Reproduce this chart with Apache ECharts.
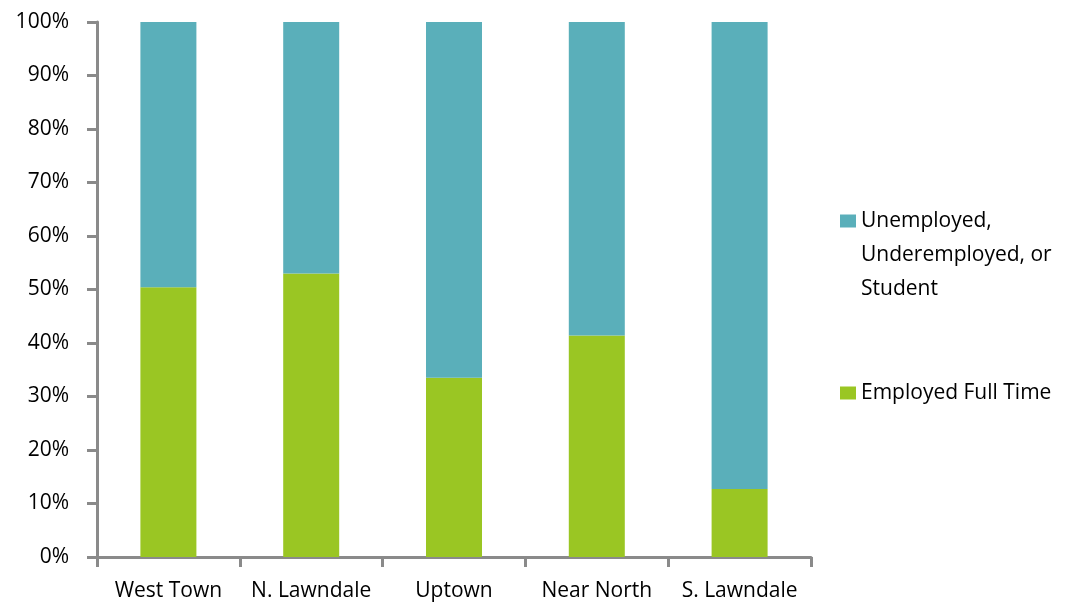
<!DOCTYPE html>
<html>
<head>
<meta charset="utf-8">
<script src="https://cdn.jsdelivr.net/npm/echarts@6/dist/echarts.min.js"></script>
<style>
  html, body { margin: 0; padding: 0; background: #fff; }
  #chart { width: 1084px; height: 604px; }
</style>
</head>
<body>
<div id="chart"></div>
<script>
// Employment status by community area (share of respondents, %)
const categories = ['West Town', 'N. Lawndale', 'Uptown', 'Near North', 'S. Lawndale'];
const employedFullTime = [50.4, 53.0, 33.5, 41.4, 12.7];
const unemployedOrStudent = [49.6, 47.0, 66.5, 58.6, 87.3];
const yTicks = [0, 10, 20, 30, 40, 50, 60, 70, 80, 90, 100];

const NAME_OTHER = 'Unemployed, Underemployed, or Student';
const NAME_EMPLOYED = 'Employed Full Time';

const FONT = 'Open Sans';
const FONT_SIZE = 21;
const AXIS_GREY = '#8a8a8a';
const TEAL = '#5AAFBA';
const GREEN = '#9AC623';

const chart = echarts.init(document.getElementById('chart'), null, { renderer: 'canvas' });

chart.setOption({
  animation: false,
  backgroundColor: '#ffffff',
  textStyle: { fontFamily: FONT, color: '#000' },
  grid: { left: 97, right: 273, top: 22, bottom: 47, containLabel: false },
  legend: {
    orient: 'vertical',
    left: 840,
    top: 136,
    padding: 0,
    itemWidth: 16,
    itemHeight: 13,
    itemGap: 70,
    icon: 'rect',
    selectedMode: false,
    textStyle: { fontFamily: FONT, fontSize: FONT_SIZE, color: '#000', lineHeight: 34 },
    // two leading blank lines keep the swatch level with the first line of the wrapped label
    formatter: function (name) {
      return name === NAME_OTHER ? '\n\nUnemployed,\nUnderemployed, or\nStudent' : name;
    },
    data: [NAME_OTHER, NAME_EMPLOYED]
  },
  xAxis: {
    type: 'category',
    data: categories,
    axisLine: { lineStyle: { color: AXIS_GREY, width: 3 } },
    axisTick: { show: true, length: 10, lineStyle: { color: AXIS_GREY, width: 3 } },
    axisLabel: { interval: 0, fontFamily: FONT, fontSize: FONT_SIZE, color: '#000', margin: 24 }
  },
  yAxis: {
    type: 'value',
    min: yTicks[0],
    max: yTicks[yTicks.length - 1],
    interval: yTicks[1] - yTicks[0],
    splitLine: { show: false },
    axisLine: { show: true, lineStyle: { color: AXIS_GREY, width: 3 } },
    axisTick: { show: true, length: 10, lineStyle: { color: AXIS_GREY, width: 3 } },
    axisLabel: {
      fontFamily: FONT, fontSize: FONT_SIZE, color: '#000', margin: 28,
      formatter: function (v) { return v + '%'; }
    }
  },
  series: [
    {
      name: NAME_EMPLOYED,
      type: 'bar',
      stack: 'share',
      barWidth: 56,
      itemStyle: { color: GREEN },
      data: employedFullTime
    },
    {
      name: NAME_OTHER,
      type: 'bar',
      stack: 'share',
      barWidth: 56,
      itemStyle: { color: TEAL },
      data: unemployedOrStudent
    }
  ]
});
</script>
</body>
</html>
